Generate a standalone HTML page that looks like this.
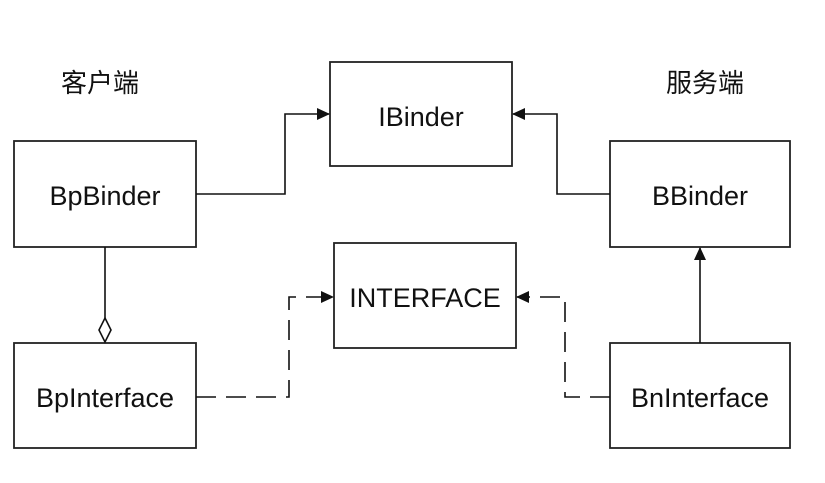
<!DOCTYPE html>
<html><head><meta charset="utf-8"><style>
body{margin:0;background:#fff;width:825px;height:478px;overflow:hidden}
</style></head><body>
<svg width="825" height="478" viewBox="0 0 825 478" xmlns="http://www.w3.org/2000/svg">
<defs>
<marker id="a" markerWidth="13" markerHeight="12" refX="12" refY="6" orient="auto" markerUnits="userSpaceOnUse">
<path d="M0,0 L13,6 L0,12 Z" fill="#111"/></marker>
</defs>
<g fill="#fff" stroke="#222" stroke-width="1.8">
<rect x="330" y="62" width="182" height="104"/>
<rect x="14" y="141" width="182" height="106"/>
<rect x="610" y="141" width="180" height="106"/>
<rect x="334" y="243" width="182" height="105"/>
<rect x="14" y="343" width="182" height="105"/>
<rect x="610" y="343" width="180" height="105"/>
</g>
<g fill="none" stroke="#111" stroke-width="1.6">
<polyline points="196,194 285,194 285,114 329,114" marker-end="url(#a)"/>
<polyline points="610,194 557,194 557,114 513,114" marker-end="url(#a)"/>
<line x1="700" y1="343" x2="700" y2="248" marker-end="url(#a)"/>
<line x1="105" y1="247" x2="105" y2="318"/>
<path d="M105,318 L111,330 L105,342 L99,330 Z" fill="#fff"/>
<g stroke-dasharray="20,10">
<polyline points="196,397 289,397 289,297 333,297" marker-end="url(#a)"/>
<polyline points="610,397 565,397 565,297 517,297" marker-end="url(#a)"/>
</g>
</g>
<g font-family="Liberation Sans, DejaVu Sans, sans-serif" font-size="27" fill="#111" text-anchor="middle">
<text x="421" y="126">IBinder</text>
<text x="105" y="205">BpBinder</text>
<text x="700" y="205">BBinder</text>
<text x="425" y="307">INTERFACE</text>
<text x="105" y="407">BpInterface</text>
<text x="700" y="407">BnInterface</text>
</g>
<g font-family="Liberation Sans, 'Noto Sans CJK SC', sans-serif" font-size="26" fill="#111" text-anchor="middle">
<text x="100" y="92">客户端</text>
<text x="705" y="92">服务端</text>
</g>
</svg>
</body></html>
